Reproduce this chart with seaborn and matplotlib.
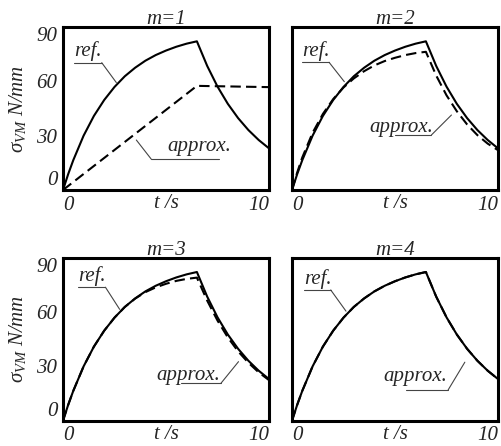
import matplotlib
matplotlib.use("Agg")
import matplotlib.pyplot as plt
import seaborn as sns
import pandas as pd

# time grid (s) and reference stress (N/mm)
t = [0, 0.25, 0.5, 1, 1.5, 2, 2.5, 3, 3.5, 4, 4.5, 5, 5.5, 6, 6.5,
     7, 7.5, 8, 8.5, 9, 9.5, 10]
ref = [0, 8.7, 16.5, 30.0, 40.9, 49.7, 56.9, 62.8, 67.5, 71.4, 74.5, 77.0,
       79.1, 80.8, 82.1, 68.5, 57.1, 47.6, 39.7, 33.1, 27.6, 23.0]

# approximations for m = 1..4
t_m1 = [0, 6.5, 10]
approx_m1 = [0, 57.5, 56.8]
approx_m2 = [0, 9.6, 18.0, 31.6, 42.0, 50.2, 56.6, 61.6, 65.6, 68.8, 71.2,
             73.0, 74.5, 75.6, 76.3, 63.2, 52.3, 43.5, 36.2, 30.3, 25.6, 22.0]
approx_m3 = [0, 8.7, 16.5, 30.0, 40.9, 49.7, 56.9, 62.8, 67.4, 71.0, 73.6,
             75.6, 77.2, 78.3, 79.0, 66.3, 55.3, 46.0, 38.3, 32.0, 26.7, 22.4]
approx_m4 = ref

titles = ["m=1", "m=2", "m=3", "m=4"]
approx_t = [t_m1, t, t, t]
approx_v = [approx_m1, approx_m2, approx_m3, approx_m4]

sns.set_style("white")
plt.rcParams.update({
    "font.family": "Liberation Serif",
    "font.style": "italic",
    "mathtext.fontset": "custom",
    "mathtext.rm": "Liberation Serif",
    "mathtext.it": "Liberation Serif:italic",
})
FS = 15

fig = plt.figure(figsize=(5.01, 4.46), dpi=100)

# axes boxes in figure fractions
boxes = [
    (63 / 501, 1 - 190 / 446, 206 / 501, 163 / 446),
    (292 / 501, 1 - 190 / 446, 206 / 501, 163 / 446),
    (63 / 501, 1 - 420.7 / 446, 206 / 501, 163 / 446),
    (292 / 501, 1 - 420.7 / 446, 206 / 501, 163 / 446),
]

# "ref." label: (text y, underline x0, x1, y, leader end x, y)
ref_lab = [
    (73.8, 0.53, 1.88, 70.3, 2.59, 59.3),
    (74.0, 0.49, 1.80, 70.5, 2.54, 59.8),
    (77.0, 0.72, 2.06, 73.7, 2.75, 61.5),
    (75.6, 0.59, 1.88, 72.2, 2.62, 60.5),
]
# "approx." label: (text right x, y, underline x0, x1, y, leader start x, end x, y)
apx_lab = [
    (8.16, 21.5, 4.28, 7.58, 17.1, 4.28, 3.56, 27.6),
    (6.85, 32.2, 5.02, 6.77, 30.4, 6.77, 7.74, 41.4),
    (7.65, 22.6, 5.73, 7.67, 20.7, 7.67, 8.52, 32.6),
    (7.55, 21.8, 5.55, 7.58, 17.0, 7.58, 8.39, 32.3),
]

for i in range(4):
    ax = fig.add_axes(boxes[i])
    df = pd.concat([
        pd.DataFrame({"t": t, "sigma": ref, "curve": "ref"}),
        pd.DataFrame({"t": approx_t[i], "sigma": approx_v[i], "curve": "approx"}),
    ], ignore_index=True)
    sns.lineplot(data=df, x="t", y="sigma", style="curve",
                 style_order=["ref", "approx"],
                 dashes={"ref": "", "approx": (5, 2.5)},
                 color="k", lw=1.5, estimator=None, sort=False,
                 legend=False, ax=ax)

    ax.set_xlim(0, 10)
    ax.set_ylim(0, 90)
    for sp in ax.spines.values():
        sp.set_linewidth(2.2)
        sp.set_color("k")

    ax.set_title(titles[i], fontsize=FS, pad=2)
    ax.tick_params(length=0, pad=4, labelsize=FS)
    ax.set_xticks([0, 10])
    xl = ax.get_xticklabels()
    xl[0].set_ha("left")
    xl[1].set_ha("right")
    ax.set_xlabel("t /s", fontsize=FS)
    ax.xaxis.set_label_coords(0.5, -0.025)

    if i % 2 == 0:
        ax.set_yticks([0, 30, 60, 90])
        yl = ax.get_yticklabels()
        yl[0].set_va("bottom")
        yl[-1].set_va("top")
        ax.set_ylabel(r"$\sigma_{\mathrm{VM}}$ N/mm", fontsize=FS)
        ax.yaxis.set_label_coords(-0.17, 0.5)
    else:
        ax.set_yticks([])
        ax.set_ylabel("")

    ty, ux0, ux1, uy, lx, ly = ref_lab[i]
    ax.text(ux0, ty, "ref.", ha="left", va="baseline", fontsize=FS)
    ax.plot([ux0, ux1], [uy, uy], color="#444444", lw=0.8)
    ax.plot([ux1, lx], [uy, ly], color="#444444", lw=0.8)

    tx, ty, ux0, ux1, uy, sx, lx, ly = apx_lab[i]
    ax.text(tx, ty, "approx.", ha="right", va="baseline", fontsize=FS)
    ax.plot([ux0, ux1], [uy, uy], color="#444444", lw=0.8)
    ax.plot([sx, lx], [uy, ly], color="#444444", lw=0.8)

fig.savefig("out.png", dpi=100)
